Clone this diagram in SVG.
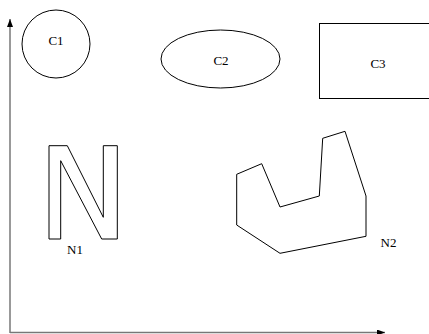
<svg xmlns="http://www.w3.org/2000/svg" width="429" height="334" viewBox="0 0 429 334">
<style>
.s{fill:none;stroke:#000;stroke-width:1}
.t{font-family:"Liberation Serif","Times New Roman",serif;font-size:13px;fill:#000;text-anchor:middle}
.ax{fill:none;stroke:#777;stroke-width:1.5}
</style>
<defs>
<marker id="ah" viewBox="0 0 8 6" refX="8" refY="3" markerWidth="8" markerHeight="6" markerUnits="userSpaceOnUse" orient="auto">
<path d="M0,0 L8,3 L0,6 Z" fill="#000"/>
</marker>
</defs>
<rect width="429" height="334" fill="#fff"/>
<g id="connectors">
<line class="ax" x1="10" y1="333" x2="10" y2="19" marker-end="url(#ah)"/>
<line class="ax" x1="10" y1="332.5" x2="385" y2="332.5" marker-end="url(#ah)"/>
</g>
<g id="C1">
<circle class="s" cx="56" cy="44" r="34"/>
<text class="t" x="56" y="45">C1</text>
</g>
<g id="C2">
<ellipse class="s" cx="220.5" cy="59" rx="59.5" ry="29"/>
<text class="t" x="221" y="64.5">C2</text>
</g>
<g id="C3">
<rect class="s" x="319.5" y="23.5" width="112" height="75"/>
<text class="t" x="378" y="68">C3</text>
</g>
<g id="N1">
<polygon class="s" points="49,145.7 67.3,145.7 103.3,217.3 103.3,145.7 117.3,145.7 117.3,239 101.7,239 60.7,160.7 60.7,239 49,239"/>
<text class="t" x="75" y="253.5">N1</text>
</g>
<g id="N2">
<polygon class="s" points="236.7,174.3 261.7,163.7 280,207 319.3,196 322.7,138.3 345,131.3 366,196 366,236.3 280,253.3 236.7,225"/>
<text class="t" x="388.5" y="246.5">N2</text>
</g>
</svg>
